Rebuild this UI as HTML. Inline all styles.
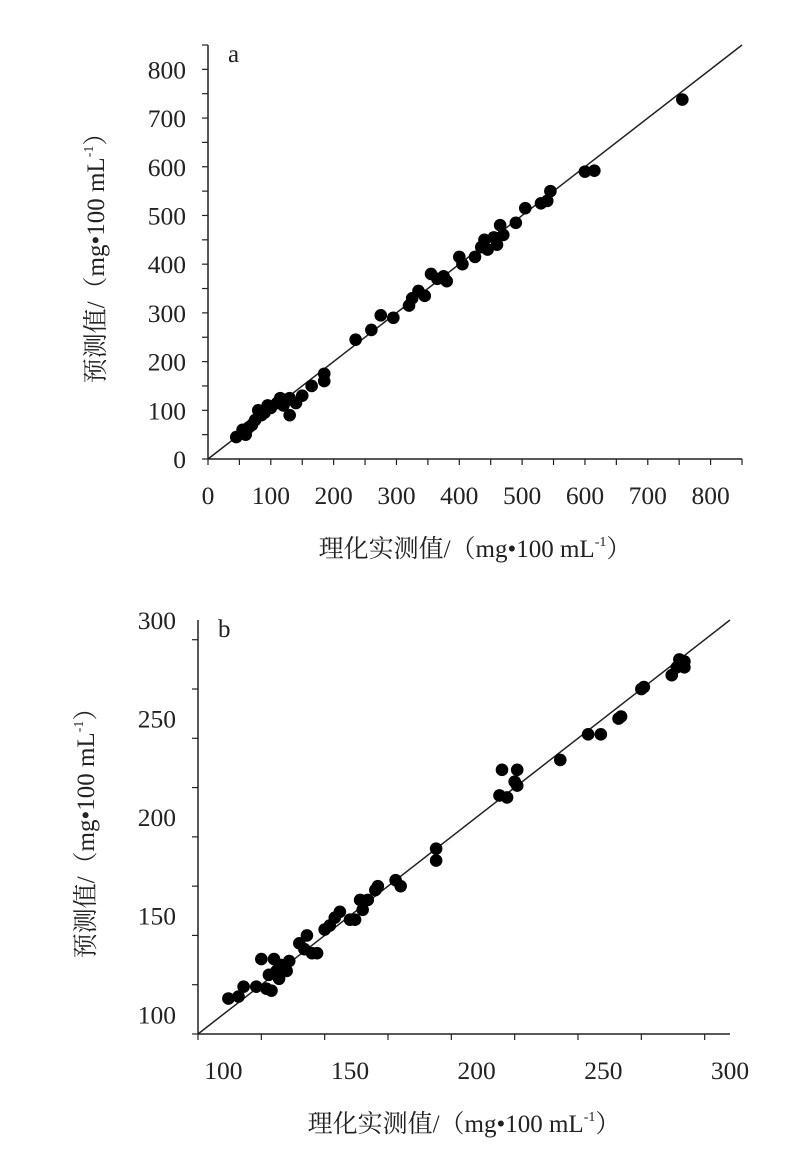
<!DOCTYPE html>
<html><head><meta charset="utf-8"><style>
body{margin:0;background:#fff;width:805px;height:1165px;overflow:hidden}
svg text{font-family:"Liberation Serif","Noto Serif CJK SC",serif;fill:#222}
</style></head><body>
<svg id="s" width="805" height="1165"></svg>
<script>
const aX=[45,55,60,65,70,75,80,85,90,95,100,110,115,120,125,130,130,140,150,165,185,185,235,260,275,295,320,325,335,345,355,365,375,380,400,405,425,435,440,445,455,460,465,470,490,505,530,540,545,600,615,755];
const aY=[45,60,50,65,70,80,100,90,95,110,105,115,125,110,120,125,90,115,130,150,160,175,245,265,295,290,315,330,345,335,380,370,375,365,415,400,415,435,450,430,455,440,480,460,485,515,525,530,550,590,592,738];
const bX=[102,106,108,113,115,117,118,119,120,121,122,123,125,126,130,132,133,135,137,140,142,144,146,150,152,154,155,157,160,161,168,170,184,184,209,210,212,215,216,216,233,244,249,256,257,265,266,277,279,280,282,282];
const bY=[108,109,114,114,128,113,120,112,128,122,118,125,122,127,136,133,140,131,131,143,145,149,152,148,148,158,153,158,163,165,168,165,178,184,211,224,210,218,224,216,229,242,242,250,251,265,266,272,276,280,276,279];
const aTicks=[0,100,200,300,400,500,600,700,800];
const bTicks=[100,150,200,250,300];
const NS="http://www.w3.org/2000/svg",svg=document.getElementById('s');
function el(t,a,p){const e=document.createElementNS(NS,t);for(const k in a)e.setAttribute(k,a[k]);(p||svg).appendChild(e);return e;}
function panel(cfg,xs,ys,ticks,name,label){
  const g=el('g',{});
  
  
  const sx=v=>cfg.x0+(v-cfg.min)*(cfg.x1-cfg.x0)/(cfg.max-cfg.min);
  const sy=v=>cfg.y0-(v-cfg.min)*(cfg.y0-cfg.y1)/(cfg.max-cfg.min);
  let ax=el('line',{x1:cfg.x0,y1:cfg.y0,x2:cfg.x0,y2:cfg.y1,stroke:'#222','stroke-width':1.5},g);
  
  ax=el('line',{x1:cfg.x0,y1:cfg.y0,x2:cfg.x1,y2:cfg.y0,stroke:'#222','stroke-width':1.5},g);
  
  for(let v=cfg.min;v<=cfg.max;v+=cfg.minor){
    el('line',{x1:cfg.x0-6,x2:cfg.x0,y1:sy(v),y2:sy(v),stroke:'#222','stroke-width':1.2},g);
    el('line',{x1:sx(v),x2:sx(v),y1:cfg.y0,y2:cfg.y0+6,stroke:'#222','stroke-width':1.2},g);
  }
  ticks.forEach(v=>{
    let t=el('text',{x:cfg.x0-22,y:sy(v)+9,'text-anchor':'end','font-size':25.5},g);t.textContent=v;
    
    t=el('text',{x:sx(v),y:cfg.y0+45,'text-anchor':'middle','font-size':25.5},g);t.textContent=v;
    
  });
  const ln=el('line',{x1:sx(cfg.min),y1:sy(cfg.min),x2:sx(cfg.max),y2:sy(cfg.max),stroke:'#222','stroke-width':1.5},g);
  
  xs.forEach((v,i)=>{
    const c=el('circle',{cx:sx(v),cy:sy(ys[i]),r:6.3,fill:'#000'},g);
    
    
  });
  let t=el('text',{x:cfg.x0+20,y:cfg.y1+17,'font-size':25},g);t.textContent=label;
  
  t=el('text',{x:(cfg.x0+cfg.x1)/2,y:cfg.y0+98,'text-anchor':'middle','font-size':25},g);
  t.innerHTML='理化实测值/（mg•100 mL<tspan font-size="14" dy="-11">-1</tspan><tspan dy="11">）</tspan>';
  
  const cy=(cfg.y0+cfg.y1)/2;
  t=el('text',{x:0,y:0,'text-anchor':'middle','font-size':25,transform:`translate(${cfg.x0-cfg.ytx},${cy}) rotate(-90)`},g);
  t.innerHTML='预测值/（mg•100 mL<tspan font-size="14" dy="-11">-1</tspan><tspan dy="11">）</tspan>';
  
}
panel({x0:208,x1:742,y0:459,y1:45,min:0,max:850,minor:50,ytx:104},aX,aY,aTicks,'chart-a','a');
panel({x0:198,x1:730,y0:1034,y1:620,min:90,max:300,minor:25,ytx:104},bX,bY,bTicks,'chart-b','b');
</script>
</body></html>
